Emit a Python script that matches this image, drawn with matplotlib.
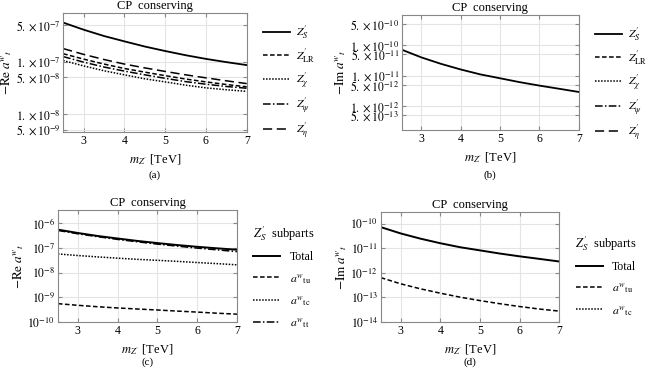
import numpy as np
import matplotlib
matplotlib.use("Agg")
from matplotlib import pyplot as plt
from matplotlib.ticker import FixedLocator, NullLocator

plt.rcParams['font.family'] = ['Liberation Serif', 'DejaVu Serif']
plt.rcParams['mathtext.fontset'] = 'stix'
plt.rcParams['font.size'] = 8.5

# m_Z' values [TeV]
mz = [2.5, 3.0, 3.5, 4.0, 4.5, 5.0, 5.5, 6.0, 6.5, 7.0]

# (a) -Re a^w_t for each model
re_S = [5.6e-7, 4.1e-7, 3.1e-7, 2.45e-7, 1.95e-7, 1.6e-7, 1.33e-7, 1.13e-7, 0.98e-7, 0.86e-7]
re_LR = [1.42e-7, 1.12e-7, 0.90e-7, 0.74e-7, 0.63e-7, 0.54e-7, 0.465e-7, 0.41e-7, 0.365e-7, 0.33e-7]
re_chi = [1.05e-7, 0.83e-7, 0.67e-7, 0.56e-7, 0.47e-7, 0.41e-7, 0.355e-7, 0.315e-7, 0.29e-7, 0.27e-7]
re_psi = [1.25e-7, 0.98e-7, 0.79e-7, 0.66e-7, 0.56e-7, 0.48e-7, 0.415e-7, 0.37e-7, 0.335e-7, 0.31e-7]
re_eta = [1.78e-7, 1.38e-7, 1.1e-7, 0.9e-7, 0.76e-7, 0.65e-7, 0.56e-7, 0.49e-7, 0.43e-7, 0.38e-7]

# (b)/(d) -Im a^w_t total for Z'_S
im_S = [7.2e-11, 4.0e-11, 2.45e-11, 1.6e-11, 1.1e-11, 8.2e-12, 6.1e-12, 4.7e-12, 3.7e-12, 2.9e-12]

# (c) Z'_S subparts, real part
re_tu = [5.6e-10, 4.8e-10, 4.2e-10, 3.75e-10, 3.4e-10, 3.1e-10, 2.8e-10, 2.55e-10, 2.3e-10, 2.1e-10]
re_tc = [5.8e-8, 5.0e-8, 4.4e-8, 3.9e-8, 3.5e-8, 3.2e-8, 2.9e-8, 2.6e-8, 2.35e-8, 2.1e-8]
re_tt = [5.2e-7, 3.8e-7, 2.9e-7, 2.25e-7, 1.8e-7, 1.45e-7, 1.2e-7, 1.0e-7, 0.85e-7, 0.72e-7]

# (d) Z'_S subparts, imaginary part
im_tu = [6.4e-13, 3.6e-13, 2.25e-13, 1.5e-13, 1.03e-13, 7.5e-14, 5.6e-14, 4.3e-14, 3.4e-14, 2.8e-14]

xticks = [3, 4, 5, 6, 7]
yt_a = [5e-7, 1e-7, 5e-8, 1e-8, 5e-9]
yl_a = [r'$5.\times10^{-7}$', r'$1.\times10^{-7}$', r'$5.\times10^{-8}$', r'$1.\times10^{-8}$', r'$5.\times10^{-9}$']
yt_b = [5e-10, 1e-10, 5e-11, 1e-11, 5e-12, 1e-12, 5e-13]
yl_b = [r'$5.\times10^{-10}$', r'$1.\times10^{-10}$', r'$5.\times10^{-11}$', r'$1.\times10^{-11}$',
        r'$5.\times10^{-12}$', r'$1.\times10^{-12}$', r'$5.\times10^{-13}$']
yt_c = [1e-6, 1e-7, 1e-8, 1e-9, 1e-10]
yt_d = [1e-10, 1e-11, 1e-12, 1e-13, 1e-14]

model_labels = [r"$Z^{\prime}_{S}$", r"$Z^{\prime}_{\mathrm{LR}}$", r"$Z^{\prime}_{\chi}$",
                r"$Z^{\prime}_{\psi}$", r"$Z^{\prime}_{\eta}$"]
sub_labels = ['Total', r"$a^{w}{}_{\mathrm{tu}}$", r"$a^{w}{}_{\mathrm{tc}}$", r"$a^{w}{}_{\mathrm{tt}}$"]
sub_title = r"$Z^{\prime}_{S}$  subparts"

styles = ['-', (0, (3, 1.6)), (0, (1, 1)), (0, (5, 1.5, 1, 1.5)), (0, (6, 3))]
frame_col = '#888888'


def setup(ax, ylim, yt, yl, ylabel, letter, letter_off):
    ax.set_yscale('log')
    ax.set_xlim(2.5, 7)
    ax.set_ylim(*ylim)
    ax.xaxis.set_major_locator(FixedLocator(xticks))
    ax.yaxis.set_major_locator(FixedLocator(yt))
    ax.yaxis.set_minor_locator(NullLocator())
    ax.set_yticklabels(yl)
    ax.grid(True, color='#e4e4e4', lw=0.8)
    for s in ax.spines.values():
        s.set_color(frame_col)
        s.set_linewidth(0.8)
    ax.tick_params(direction='in', top=True, right=True, color=frame_col,
                   labelsize=8.5, length=3, pad=2)
    ax.set_title('CP  conserving', fontsize=9, pad=3)
    ax.set_xlabel(r"$m_{Z^{\prime}}$ [TeV]", fontsize=9, labelpad=4)
    ax.set_ylabel(ylabel, fontsize=9.5, labelpad=1)
    ax.annotate(letter, xy=(0.5, 0), xycoords='axes fraction', xytext=(0, -letter_off),
                textcoords='offset pixels', ha='center', va='center', fontsize=8)


fig = plt.figure(figsize=(6.51, 3.75), dpi=100)

# (a)
ax = fig.add_axes([0.097, 0.648, 0.282, 0.317])
for vals, st, lab in zip([re_S, re_LR, re_chi, re_psi, re_eta], styles, model_labels):
    ax.plot(mz, vals, color='black', ls=st, lw=1.3 if st == '-' else 1.1, label=lab)
setup(ax, (4.5e-9, 8.5e-7), yt_a, yl_a, r'$-\mathrm{Re}\; a^{w}{}_{t}$', '(a)', 43)
ax.legend(loc='center left', bbox_to_anchor=(1.03, 0.42), frameon=False, handlelength=2.3,
          labelspacing=0.45, fontsize=8.5, handletextpad=0.5)

# (b)
ax = fig.add_axes([0.617, 0.653, 0.272, 0.307])
ax.plot(mz, im_S, color='black', ls='-', lw=1.3, label=model_labels[0])
for st, lab in zip(styles[1:], model_labels[1:]):
    ax.plot([], [], color='black', ls=st, lw=1.1, label=lab)
setup(ax, (1.6e-13, 1e-9), yt_b, yl_b, r'$-\mathrm{Im}\; a^{w}{}_{t}$', '(b)', 45)
ax.legend(loc='center left', bbox_to_anchor=(1.03, 0.4), frameon=False, handlelength=2.3,
          labelspacing=0.45, fontsize=8.5, handletextpad=0.5)

# (c)
ax = fig.add_axes([0.089, 0.141, 0.275, 0.299])
ax.plot(mz, re_S, color='black', ls='-', lw=1.4, label=sub_labels[0])
ax.plot(mz, re_tu, color='black', ls=styles[1], lw=1.1, label=sub_labels[1])
ax.plot(mz, re_tc, color='black', ls=styles[2], lw=1.1, label=sub_labels[2])
ax.plot(mz, re_tt, color='black', ls=styles[3], lw=1.1, label=sub_labels[3])
setup(ax, (1e-10, 3.5e-6), yt_c, [r'$10^{%d}$' % int(np.log10(v)) for v in yt_c],
      r'$-\mathrm{Re}\; a^{w}{}_{t}$', '(c)', 40)
ax.legend(loc='center left', bbox_to_anchor=(1.03, 0.4), frameon=False, handlelength=2.3,
          labelspacing=0.7, fontsize=8.5, handletextpad=0.8,
          title=sub_title, title_fontsize=9)

# (d)
ax = fig.add_axes([0.585, 0.141, 0.274, 0.294])
ax.plot(mz, im_S, color='black', ls='-', lw=1.4, label=sub_labels[0])
ax.plot(mz, im_tu, color='black', ls=styles[1], lw=1.1, label=sub_labels[1])
ax.plot([], [], color='black', ls=styles[2], lw=1.1, label=sub_labels[2])
setup(ax, (1e-14, 3e-10), yt_d, [r'$10^{%d}$' % int(np.log10(v)) for v in yt_d],
      r'$-\mathrm{Im}\; a^{w}{}_{t}$', '(d)', 40)
ax.legend(loc='center left', bbox_to_anchor=(1.03, 0.42), frameon=False, handlelength=2.3,
          labelspacing=0.7, fontsize=8.5, handletextpad=0.8,
          title=sub_title, title_fontsize=9)

fig.savefig('out.png', dpi=100)
